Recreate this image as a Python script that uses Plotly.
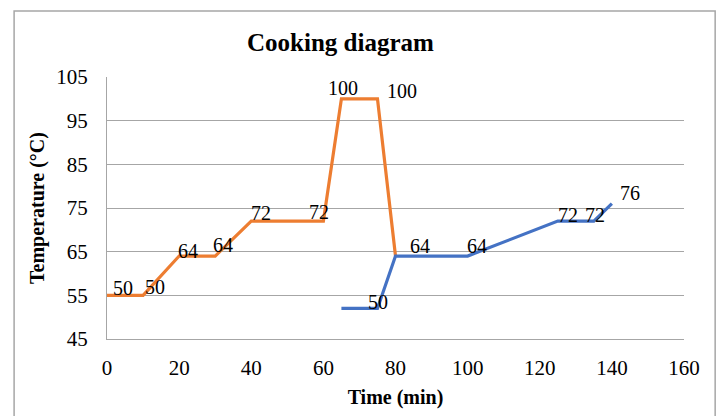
import plotly.graph_objects as go

# Stage 1 profile (orange) and stage 2 profile (blue): time in minutes, temperature in °C
stage1_time = [0, 10, 20, 30, 40, 60, 65, 75, 80]
stage1_temp = [55, 55, 64, 64, 72, 72, 100, 100, 64]
stage1_labels = ["50", "50", "64", "64", "72", "72", "100", "100", None]

stage2_time = [65, 75, 80, 100, 125, 135, 140]
stage2_temp = [52, 52, 64, 64, 72, 72, 76]
stage2_labels = [None, "50", "64", "64", "72", "72", "76"]

x_ticks = [0, 20, 40, 60, 80, 100, 120, 140, 160]
y_ticks = [45, 55, 65, 75, 85, 95, 105]

# pixel nudges for each label (dx, dy), layout only
stage1_shift = [(16, 7), (12, 8), (9, 5), (8, 11), (10, 8), (-4, 9), (2, 11), (25, 8), None]
stage2_shift = [None, (1, 6), (24, 10), (9, 10), (10, 6), (1, 6), (18, 11)]

ORANGE = "#ED7D31"
BLUE = "#4472C4"
FONT = "Liberation Serif"

fig = go.Figure()
fig.add_trace(go.Scatter(x=stage1_time, y=stage1_temp, mode="lines",
                         line=dict(color=ORANGE, width=3.2), showlegend=False))
fig.add_trace(go.Scatter(x=stage2_time, y=stage2_temp, mode="lines",
                         line=dict(color=BLUE, width=3.2), showlegend=False))

annotations = []
for xs, ys, labels, shifts in [(stage1_time, stage1_temp, stage1_labels, stage1_shift),
                               (stage2_time, stage2_temp, stage2_labels, stage2_shift)]:
    for x, y, t, s in zip(xs, ys, labels, shifts):
        if t is None:
            continue
        annotations.append(dict(x=x, y=y, text=t, showarrow=False,
                                xanchor="center", yanchor="middle",
                                xshift=s[0], yshift=s[1],
                                font=dict(family=FONT, size=20, color="#000")))

annotations.append(dict(text="<b>Cooking diagram</b>", xref="paper", yref="paper",
                        x=0.404, y=1.0, yshift=35, showarrow=False,
                        xanchor="center", yanchor="middle",
                        font=dict(family=FONT, size=25, color="#000")))

fig.update_layout(
    width=721, height=416,
    margin=dict(l=107, r=37, t=77, b=75),
    paper_bgcolor="white", plot_bgcolor="white",
    annotations=annotations,
    shapes=[dict(type="rect", xref="paper", yref="paper",
                 x0=-0.161, x1=1.054, y0=-0.35, y1=1.252,
                 line=dict(color="#a6a6a6", width=1.5))],
    xaxis=dict(range=[0, 160], tickvals=x_ticks, showgrid=False, zeroline=False,
               showline=True, linecolor="#a6a6a6", linewidth=1,
               ticks="", ticklabelstandoff=10,
               tickfont=dict(family=FONT, size=21, color="#000"),
               title=dict(text="<b>Time (min)</b>", standoff=10,
                          font=dict(family=FONT, size=20, color="#000"))),
    yaxis=dict(range=[45, 105], tickvals=y_ticks, showgrid=True, gridcolor="#a6a6a6",
               gridwidth=1, zeroline=False, showline=True, linecolor="#a6a6a6",
               linewidth=1, ticks="", ticklabelstandoff=14,
               tickfont=dict(family=FONT, size=21, color="#000"),
               title=dict(text="<b>Temperature (°C)</b>", standoff=6,
                          font=dict(family=FONT, size=20, color="#000"))),
)

fig.write_html("out.html")
